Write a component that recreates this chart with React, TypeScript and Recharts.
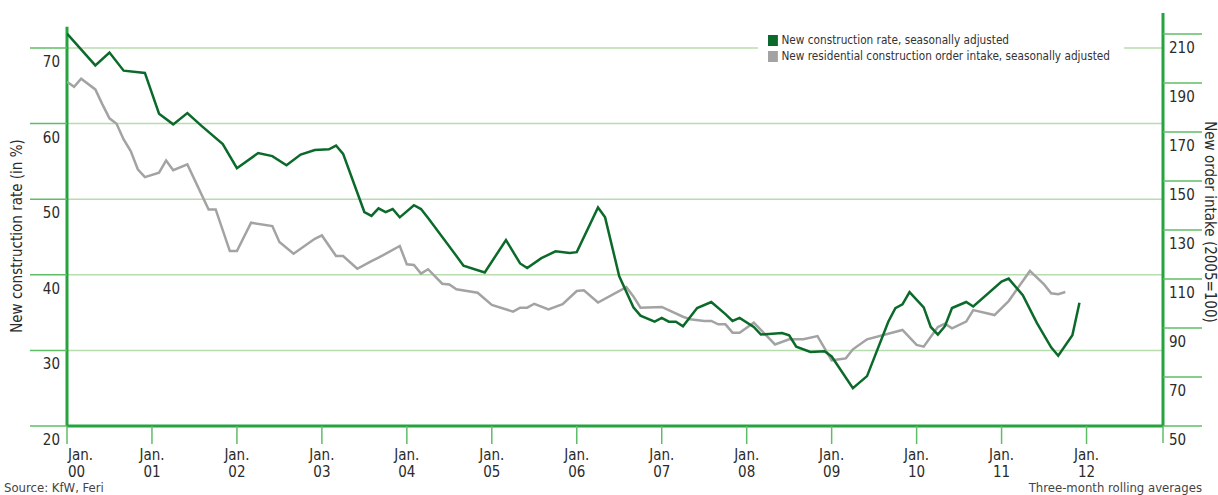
import React from "react";
import {
  CartesianGrid,
  Legend,
  Line,
  LineChart,
  ReferenceLine,
  XAxis,
  YAxis,
} from "recharts";

// months counted from Jan 2000
const rateMonths = [
  0, 4, 6, 8, 11, 13, 15, 17, 19, 22, 24, 27, 29, 31, 33, 35, 37, 38, 39, 42,
  43, 44, 45, 46, 47, 49, 50, 51, 55, 56, 59, 62, 64, 65, 67, 69, 71, 72, 75,
  76, 78, 80, 81, 83, 84, 85, 86, 87, 89, 91, 93, 94, 95, 97, 98, 101, 102,
  103, 105, 107, 108, 111, 113, 116, 117, 118, 119, 121, 122, 123, 124, 125,
  127, 128, 132, 133, 135, 137, 139, 140, 142, 143,
];
const rateValues = [
  71.9, 67.7, 69.4, 67.0, 66.7, 61.3, 59.9, 61.4, 59.7, 57.3, 54.1, 56.1, 55.7,
  54.5, 55.9, 56.5, 56.6, 57.1, 56.0, 48.3, 47.8, 48.8, 48.3, 48.7, 47.6, 49.2,
  48.7, 47.5, 42.5, 41.2, 40.3, 44.6, 41.5, 40.9, 42.2, 43.1, 42.9, 43.0, 48.9,
  47.6, 39.8, 35.7, 34.6, 33.8, 34.3, 33.8, 33.8, 33.2, 35.6, 36.4, 34.8, 33.9,
  34.3, 33.1, 32.1, 32.3, 32.0, 30.5, 29.8, 29.9, 29.2, 25.0, 26.6, 33.8, 35.6,
  36.1, 37.7, 35.7, 33.1, 32.1, 33.2, 35.6, 36.4, 35.8, 39.1, 39.5, 37.3, 33.6,
  30.4, 29.3, 32.0, 36.3,
];

const orderMonths = [
  0, 1, 2, 4, 5, 6, 7, 8, 9, 10, 11, 13, 14, 15, 17, 20, 21, 23, 24, 26, 29,
  30, 32, 35, 36, 38, 39, 41, 43, 44, 47, 48, 49, 50, 51, 53, 54, 55, 58, 60,
  63, 64, 65, 66, 68, 70, 72, 73, 75, 79, 80, 81, 84, 87, 88, 90, 91, 92, 93,
  94, 95, 97, 100, 102, 104, 106, 108, 110, 111, 113, 118, 120, 121, 123, 124,
  125, 127, 128, 131, 133, 136, 138, 139, 140, 141,
];
const orderValues = [
  190.5, 188.5, 191.8, 187.4, 181.3, 175.6, 173.4, 167.0, 162.2, 154.8, 151.6,
  153.4, 158.4, 154.4, 156.8, 138.4, 138.4, 121.4, 121.4, 133.0, 131.6, 125.1,
  120.3, 126.4, 127.8, 119.4, 119.4, 114.2, 117.3, 118.7, 123.5, 116.0, 115.7,
  112.2, 114.0, 108.1, 107.8, 105.8, 104.4, 99.4, 96.7, 98.3, 98.3, 99.9, 97.6,
  99.7, 105.1, 105.4, 100.4, 106.7, 102.9, 98.3, 98.6, 94.6, 93.6, 92.9, 92.9,
  91.5, 91.5, 88.1, 88.1, 92.2, 83.3, 85.4, 85.4, 86.7, 76.8, 77.6, 81.3, 85.4,
  89.2, 83.1, 82.4, 90.4, 91.8, 89.9, 92.6, 97.3, 95.3, 101.0, 113.3, 107.8,
  104.2, 103.8, 104.7,
];

const yearTicks = [0, 12, 24, 36, 48, 60, 72, 84, 96, 108, 120, 132, 144];
const rateTicks = [20, 30, 40, 50, 60, 70];
const orderTicks = [50, 70, 90, 110, 130, 150, 170, 190, 210];

const rateName = "New construction rate, seasonally adjusted";
const orderName = "New residential construction order intake, seasonally adjusted";

const rateData = rateMonths.map((m, i) => ({ m, v: rateValues[i] }));
const orderData = orderMonths.map((m, i) => ({ m, v: orderValues[i] }));

const FONT = "'DejaVu Sans Condensed', 'Liberation Sans Narrow', sans-serif";
const AXIS_GREEN = "#25a33f";
const TICK_GREEN = "#5fbd66";
const GRID_GREEN = "#b7dcae";
const RATE_GREEN = "#0b6a2a";
const ORDER_GREY = "#a3a3a3";
const TEXT = "#2b2b2b";

const LeftTick = (props: any) => {
  const { x, y, payload } = props;
  return (
    <g>
      <line x1={x - 37} x2={x} y1={y} y2={y} stroke={TICK_GREEN} strokeWidth={1.5} />
      <text x={x - 7} y={y + 19} textAnchor="end" fontSize={15} fill={TEXT} fontFamily={FONT}>
        {payload.value}
      </text>
    </g>
  );
};

const RightTick = (props: any) => {
  const { x, y, payload } = props;
  return (
    <g>
      <line x1={x} x2={x + 39} y1={y} y2={y} stroke={TICK_GREEN} strokeWidth={1.5} />
      {payload.value === 50 && (
        <line x1={x} x2={x} y1={y} y2={y + 17} stroke={TICK_GREEN} strokeWidth={1.5} />
      )}
      <text x={x + 6} y={y + 19} textAnchor="start" fontSize={15} fill={TEXT} fontFamily={FONT}>
        {payload.value}
      </text>
    </g>
  );
};

const YearTick = (props: any) => {
  const { x, y, payload } = props;
  const yr = String(payload.value / 12).padStart(2, "0");
  const first = payload.value === 0;
  const tx = first ? x + 1 : x;
  const anchor = first ? "start" : "middle";
  return (
    <g>
      <line x1={x} x2={x} y1={y} y2={y + 18} stroke={TICK_GREEN} strokeWidth={1.5} />
      <text x={tx} y={y + 34} textAnchor={anchor} fontSize={15} fill={TEXT} fontFamily={FONT}>
        Jan.
      </text>
      <text x={tx} y={y + 51} textAnchor={anchor} fontSize={15} fill={TEXT} fontFamily={FONT}>
        {yr}
      </text>
    </g>
  );
};

const LegendBox = () => (
  <div style={{ background: "#fff", padding: "2px 6px 3px 10px", fontFamily: FONT, fontSize: 13, color: "#333", lineHeight: "16px" }}>
    <div style={{ transform: "scaleX(0.9)", transformOrigin: "left center", width: 380 }}>
      {[
        { name: rateName, color: RATE_GREEN },
        { name: orderName, color: ORDER_GREY },
      ].map((item) => (
        <div key={item.name} style={{ display: "flex", alignItems: "center", whiteSpace: "nowrap" }}>
          <span style={{ width: 11, height: 11, background: item.color, marginRight: 4, display: "inline-block" }} />
          {item.name}
        </div>
      ))}
    </div>
  </div>
);

export default function App() {
  return (
    <div style={{ position: "absolute", left: 0, top: 0, width: 1218, height: 495, background: "#fff", fontFamily: FONT }}>
      <LineChart width={1218} height={495} margin={{ top: 13, right: 0, bottom: 0, left: 7 }}>
        <CartesianGrid
          vertical={false}
          yAxisId="left"
          horizontalValues={[30, 40, 50, 60, 70]}
          stroke={GRID_GREEN}
          strokeWidth={1.5}
        />
        <XAxis
          type="number"
          dataKey="m"
          domain={[0, 154.8]}
          ticks={yearTicks}
          allowDataOverflow
          height={69}
          tickSize={0}
          tickMargin={0}
          tickLine={false}
          axisLine={{ stroke: AXIS_GREEN, strokeWidth: 3 }}
          tick={<YearTick />}
          interval={0}
        />
        <YAxis
          yAxisId="left"
          orientation="left"
          domain={[20, 74.63]}
          ticks={rateTicks}
          allowDataOverflow
          width={60}
          tickSize={0}
          tickMargin={0}
          tickLine={false}
          axisLine={false}
          tick={<LeftTick />}
          interval={0}
        />
        <YAxis
          yAxisId="right"
          orientation="right"
          domain={[50, 218.6]}
          ticks={orderTicks}
          allowDataOverflow
          width={55}
          tickSize={0}
          tickMargin={0}
          tickLine={false}
          axisLine={{ stroke: AXIS_GREEN, strokeWidth: 3 }}
          tick={<RightTick />}
          interval={0}
        />
        <ReferenceLine
          yAxisId="left"
          segment={[
            { x: 0, y: 20 },
            { x: 0, y: 72.8 },
          ]}
          stroke={AXIS_GREEN}
          strokeWidth={3}
        />
        <Legend
          layout="horizontal"
          verticalAlign="middle"
          align="center"
          content={<LegendBox />}
          wrapperStyle={{ left: 758, top: 30, width: 366, height: 40 }}
        />
        <Line
          yAxisId="right"
          data={orderData}
          dataKey="v"
          name={orderName}
          type="linear"
          stroke={ORDER_GREY}
          strokeWidth={2.5}
          dot={false}
          isAnimationActive={false}
        />
        <Line
          yAxisId="left"
          data={rateData}
          dataKey="v"
          name={rateName}
          type="linear"
          stroke={RATE_GREEN}
          strokeWidth={2.5}
          dot={false}
          isAnimationActive={false}
        />
      </LineChart>
      <svg width={1218} height={495} style={{ position: "absolute", left: 0, top: 0, pointerEvents: "none" }}>
        <text transform="translate(22 236) rotate(-90)" textAnchor="middle" fontSize={15} fill={TEXT} fontFamily={FONT}>
          New construction rate (in %)
        </text>
        <text transform="translate(1205 222) rotate(90)" textAnchor="middle" fontSize={15} fill={TEXT} fontFamily={FONT}>
          New order intake (2005=100)
        </text>
      </svg>
      <div style={{ position: "absolute", left: 4, top: 480, fontSize: 13, color: "#444" }}>
        Source: KfW, Feri
      </div>
      <div style={{ position: "absolute", right: 16, top: 480, fontSize: 13, color: "#444" }}>
        Three-month rolling averages
      </div>
    </div>
  );
}
